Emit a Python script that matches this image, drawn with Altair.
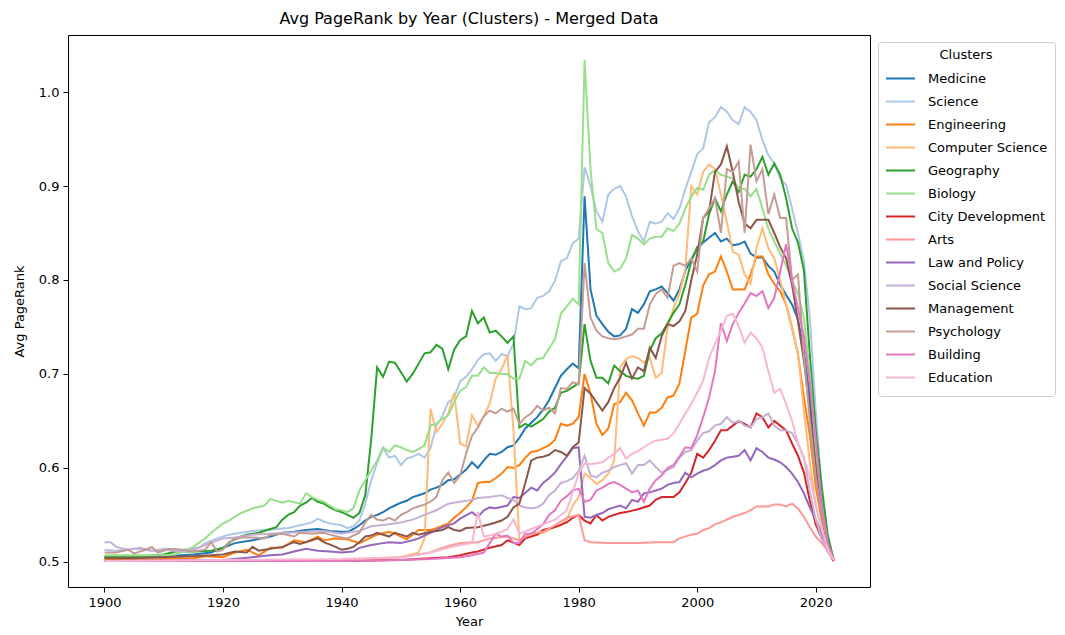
import altair as alt
import pandas as pd

CLUSTERS = ["Medicine", "Science", "Engineering", "Computer Science", "Geography",
            "Biology", "City Development", "Arts", "Law and Policy", "Social Science",
            "Management", "Psychology", "Building", "Education"]
COLORS = ["#1f77b4", "#aec7e8", "#ff7f0e", "#ffbb78", "#2ca02c", "#98df8a", "#d62728",
          "#ff9896", "#9467bd", "#c5b0d5", "#8c564b", "#c49c94", "#e377c2", "#f7b6d2"]

MEDICINE = [(1900,.505),(1905,.505),(1910,.506),(1915,.508),(1918,.510),(1920,.515),(1922,.520),(1925,.523),(1928,.527),(1930,.531),(1932,.532),(1934,.534),(1936,.535),(1938,.533),(1940,.532),(1941,.532),(1942,.535),(1943,.539),(1944,.544),(1945,.548),(1946,.550),(1947,.553),(1948,.557),(1949,.560),(1950,.563),(1951,.565),(1952,.569),(1953,.571),(1954,.573),(1955,.577),(1956,.579),(1957,.582),(1958,.587),(1959,.588),(1960,.593),(1961,.598),(1962,.606),(1963,.600),(1964,.608),(1965,.615),(1966,.614),(1967,.617),(1968,.622),(1969,.624),(1970,.632),(1971,.642),(1972,.648),(1973,.654),(1974,.662),(1975,.672),(1976,.685),(1977,.698),(1978,.705),(1979,.711),(1980,.706),(1981,.889),(1982,.790),(1983,.762),(1984,.753),(1985,.745),(1986,.740),(1987,.741),(1988,.748),(1989,.769),(1990,.765),(1991,.774),(1992,.788),(1993,.790),(1994,.793),(1995,.786),(1996,.778),(1997,.790),(1998,.810),(1999,.822),(2000,.833),(2001,.840),(2002,.845),(2003,.850),(2004,.841),(2005,.844),(2006,.837),(2007,.838),(2008,.841),(2009,.828),(2010,.824),(2011,.824),(2012,.815),(2013,.809),(2014,.795),(2015,.784),(2016,.774),(2017,.758),(2018,.725),(2019,.675),(2020,.615),(2021,.565),(2022,.525),(2023,.502)]

SCIENCE = [(1900,.513),(1902,.512),(1905,.514),(1908,.512),(1910,.514),(1913,.513),(1916,.515),(1917,.520),(1919,.525),(1921,.529),(1923,.531),(1925,.533),(1927,.534),(1929,.535),(1931,.536),(1933,.539),(1935,.542),(1936,.546),(1937,.543),(1938,.541),(1940,.539),(1941,.536),(1942,.538),(1943,.544),(1944,.562),(1945,.587),(1946,.605),(1947,.621),(1948,.611),(1949,.613),(1950,.603),(1951,.610),(1952,.612),(1953,.615),(1954,.611),(1955,.621),(1956,.645),(1957,.655),(1958,.670),(1959,.675),(1960,.692),(1961,.697),(1962,.705),(1963,.715),(1964,.721),(1965,.722),(1966,.714),(1967,.721),(1968,.719),(1969,.732),(1970,.772),(1971,.769),(1972,.770),(1973,.781),(1974,.783),(1975,.788),(1976,.799),(1977,.820),(1978,.823),(1979,.839),(1980,.844),(1981,.920),(1982,.900),(1983,.873),(1984,.862),(1985,.891),(1986,.897),(1987,.900),(1988,.889),(1989,.868),(1990,.852),(1991,.841),(1992,.862),(1993,.860),(1994,.862),(1995,.871),(1996,.865),(1997,.876),(1998,.897),(1999,.915),(2000,.934),(2001,.940),(2002,.968),(2003,.973),(2004,.984),(2005,.979),(2006,.970),(2007,.966),(2008,.984),(2009,.979),(2010,.970),(2011,.949),(2012,.933),(2013,.924),(2014,.908),(2015,.901),(2016,.876),(2017,.850),(2018,.820),(2019,.760),(2020,.660),(2021,.580),(2022,.530),(2023,.502)]

ENGINEERING = [(1900,.502),(1905,.502),(1910,.503),(1915,.504),(1917,.506),(1920,.505),(1922,.510),(1924,.513),(1926,.507),(1928,.515),(1930,.515),(1932,.523),(1934,.521),(1936,.527),(1937,.523),(1939,.525),(1941,.524),(1943,.520),(1944,.523),(1946,.529),(1948,.532),(1949,.530),(1950,.527),(1951,.524),(1953,.534),(1955,.534),(1956,.536),(1958,.541),(1959,.547),(1960,.552),(1961,.558),(1962,.565),(1963,.584),(1964,.585),(1965,.585),(1966,.589),(1967,.594),(1968,.601),(1969,.600),(1970,.603),(1971,.611),(1972,.617),(1973,.618),(1974,.621),(1975,.624),(1976,.630),(1977,.647),(1978,.645),(1979,.647),(1980,.654),(1981,.700),(1982,.679),(1983,.647),(1984,.635),(1985,.642),(1986,.668),(1987,.670),(1988,.680),(1989,.672),(1990,.658),(1991,.645),(1992,.659),(1993,.659),(1994,.664),(1995,.675),(1996,.677),(1997,.690),(1998,.725),(1999,.760),(2000,.764),(2001,.794),(2002,.806),(2003,.809),(2004,.825),(2005,.809),(2006,.790),(2007,.790),(2008,.790),(2009,.806),(2010,.825),(2011,.825),(2012,.806),(2013,.796),(2014,.788),(2015,.774),(2016,.749),(2017,.721),(2018,.675),(2019,.635),(2020,.580),(2021,.545),(2022,.520),(2023,.501)]

COMPUTER_SCIENCE = [(1900,.501),(1920,.501),(1940,.501),(1945,.502),(1950,.505),(1953,.510),(1954,.525),(1955,.663),(1956,.638),(1957,.647),(1958,.658),(1959,.680),(1960,.626),(1961,.623),(1962,.656),(1963,.645),(1964,.655),(1965,.669),(1966,.695),(1967,.705),(1968,.720),(1969,.640),(1970,.523),(1971,.525),(1972,.527),(1973,.529),(1974,.531),(1975,.534),(1976,.537),(1977,.539),(1978,.545),(1979,.560),(1980,.569),(1981,.594),(1982,.589),(1983,.583),(1984,.587),(1985,.594),(1986,.608),(1987,.707),(1988,.716),(1989,.719),(1990,.717),(1991,.712),(1992,.717),(1993,.696),(1994,.701),(1995,.749),(1996,.770),(1997,.785),(1998,.812),(1999,.900),(2000,.891),(2001,.915),(2002,.923),(2003,.918),(2004,.891),(2005,.862),(2006,.830),(2007,.827),(2008,.806),(2009,.796),(2010,.834),(2011,.855),(2012,.834),(2013,.823),(2014,.800),(2015,.774),(2016,.750),(2017,.721),(2018,.661),(2019,.606),(2020,.560),(2021,.535),(2022,.515),(2023,.501)]

GEOGRAPHY = [(1900,.505),(1905,.505),(1910,.508),(1912,.511),(1915,.511),(1918,.512),(1920,.515),(1922,.525),(1924,.529),(1926,.531),(1928,.535),(1929,.537),(1930,.545),(1931,.550),(1932,.553),(1933,.560),(1934,.563),(1935,.568),(1936,.564),(1937,.562),(1938,.558),(1939,.555),(1940,.553),(1941,.550),(1942,.547),(1943,.552),(1944,.571),(1945,.630),(1946,.707),(1947,.697),(1948,.713),(1949,.712),(1950,.702),(1951,.692),(1952,.700),(1953,.711),(1954,.722),(1955,.723),(1956,.731),(1957,.727),(1958,.705),(1959,.726),(1960,.736),(1961,.740),(1962,.767),(1963,.754),(1964,.760),(1965,.744),(1966,.746),(1967,.740),(1968,.733),(1969,.740),(1970,.643),(1971,.647),(1972,.644),(1973,.648),(1974,.652),(1975,.660),(1976,.664),(1977,.680),(1978,.682),(1979,.686),(1980,.690),(1981,.753),(1982,.714),(1983,.696),(1984,.696),(1985,.690),(1986,.709),(1987,.703),(1988,.698),(1989,.696),(1990,.695),(1991,.698),(1992,.725),(1993,.738),(1994,.743),(1995,.754),(1996,.765),(1997,.774),(1998,.795),(1999,.820),(2000,.835),(2001,.841),(2002,.870),(2003,.887),(2004,.873),(2005,.891),(2006,.905),(2007,.894),(2008,.912),(2009,.910),(2010,.918),(2011,.931),(2012,.912),(2013,.924),(2014,.912),(2015,.887),(2016,.855),(2017,.840),(2018,.810),(2019,.720),(2020,.640),(2021,.580),(2022,.528),(2023,.503)]

BIOLOGY = [(1900,.507),(1905,.507),(1910,.507),(1912,.508),(1914,.513),(1915,.516),(1917,.525),(1918,.531),(1920,.541),(1921,.544),(1923,.552),(1925,.557),(1927,.560),(1928,.567),(1930,.563),(1931,.565),(1933,.562),(1934,.573),(1935,.569),(1936,.566),(1937,.564),(1938,.560),(1939,.556),(1940,.555),(1941,.553),(1942,.557),(1943,.576),(1944,.587),(1945,.597),(1946,.608),(1947,.622),(1948,.617),(1949,.624),(1950,.622),(1951,.619),(1952,.617),(1953,.620),(1954,.624),(1955,.645),(1956,.647),(1957,.652),(1958,.656),(1959,.670),(1960,.682),(1961,.686),(1962,.698),(1963,.698),(1964,.707),(1965,.701),(1966,.701),(1967,.700),(1968,.700),(1969,.695),(1970,.695),(1971,.714),(1972,.709),(1973,.716),(1974,.717),(1975,.727),(1976,.737),(1977,.764),(1978,.772),(1979,.780),(1980,.774),(1981,1.034),(1982,.918),(1983,.854),(1984,.850),(1985,.818),(1986,.809),(1987,.812),(1988,.823),(1989,.848),(1990,.844),(1991,.838),(1992,.844),(1993,.846),(1994,.846),(1995,.855),(1996,.852),(1997,.860),(1998,.876),(1999,.889),(2000,.898),(2001,.896),(2002,.912),(2003,.917),(2004,.912),(2005,.910),(2006,.908),(2007,.897),(2008,.897),(2009,.889),(2010,.897),(2011,.876),(2012,.855),(2013,.841),(2014,.828),(2015,.815),(2016,.800),(2017,.785),(2018,.760),(2019,.700),(2020,.620),(2021,.560),(2022,.520),(2023,.502)]

CITY_DEVELOPMENT = [(1900,.501),(1920,.501),(1940,.501),(1950,.502),(1955,.504),(1958,.505),(1960,.507),(1962,.510),(1963,.511),(1965,.515),(1967,.518),(1968,.523),(1970,.518),(1971,.525),(1973,.529),(1974,.534),(1976,.537),(1978,.542),(1979,.547),(1980,.550),(1981,.544),(1982,.541),(1983,.550),(1984,.544),(1985,.548),(1987,.552),(1988,.553),(1990,.556),(1992,.560),(1993,.566),(1994,.569),(1996,.569),(1997,.574),(1998,.584),(1999,.595),(2000,.615),(2001,.611),(2002,.619),(2003,.629),(2004,.640),(2005,.640),(2006,.645),(2007,.650),(2008,.647),(2009,.643),(2010,.658),(2011,.654),(2012,.643),(2013,.650),(2014,.645),(2015,.640),(2016,.626),(2017,.613),(2018,.595),(2019,.565),(2020,.540),(2021,.525),(2022,.512),(2023,.501)]

ARTS = [(1900,.501),(1920,.501),(1940,.502),(1950,.505),(1955,.510),(1957,.515),(1960,.520),(1963,.521),(1965,.525),(1968,.527),(1970,.523),(1972,.530),(1974,.532),(1976,.539),(1978,.547),(1980,.550),(1981,.523),(1982,.521),(1985,.520),(1990,.520),(1993,.521),(1996,.521),(1997,.525),(1999,.529),(2000,.530),(2001,.534),(2002,.536),(2003,.540),(2004,.542),(2005,.545),(2006,.548),(2007,.550),(2008,.552),(2009,.555),(2010,.559),(2011,.559),(2012,.559),(2013,.561),(2014,.561),(2015,.559),(2016,.562),(2017,.557),(2018,.548),(2019,.537),(2020,.527),(2021,.520),(2022,.512),(2023,.503)]

LAW_AND_POLICY = [(1900,.501),(1920,.502),(1925,.505),(1928,.507),(1930,.508),(1932,.511),(1934,.514),(1936,.512),(1938,.511),(1940,.510),(1942,.511),(1943,.515),(1945,.518),(1947,.520),(1948,.521),(1950,.520),(1952,.523),(1953,.525),(1955,.531),(1957,.537),(1959,.541),(1960,.546),(1962,.553),(1963,.548),(1964,.555),(1965,.558),(1966,.557),(1968,.560),(1969,.569),(1970,.568),(1972,.579),(1973,.576),(1974,.584),(1975,.589),(1976,.595),(1977,.604),(1978,.612),(1979,.621),(1980,.622),(1981,.548),(1982,.547),(1983,.550),(1984,.552),(1985,.556),(1986,.558),(1987,.560),(1988,.557),(1989,.566),(1990,.564),(1991,.573),(1992,.574),(1993,.576),(1994,.578),(1995,.582),(1996,.584),(1997,.585),(1998,.595),(1999,.590),(2000,.594),(2001,.597),(2002,.599),(2003,.603),(2004,.608),(2005,.611),(2006,.612),(2007,.613),(2008,.619),(2009,.608),(2010,.621),(2011,.617),(2012,.611),(2013,.609),(2014,.606),(2015,.601),(2016,.594),(2017,.585),(2018,.573),(2019,.558),(2020,.545),(2021,.530),(2022,.515),(2023,.502)]

SOCIAL_SCIENCE = [(1900,.521),(1901,.521),(1902,.516),(1904,.513),(1906,.515),(1908,.512),(1910,.513),(1913,.511),(1915,.513),(1917,.518),(1920,.525),(1922,.526),(1925,.529),(1928,.530),(1931,.531),(1934,.532),(1937,.533),(1940,.530),(1943,.533),(1945,.538),(1948,.540),(1950,.542),(1952,.545),(1954,.550),(1956,.555),(1958,.562),(1960,.564),(1962,.566),(1963,.568),(1965,.569),(1966,.570),(1967,.571),(1968,.568),(1969,.566),(1970,.560),(1971,.558),(1972,.557),(1973,.558),(1974,.562),(1975,.571),(1976,.576),(1977,.584),(1978,.586),(1979,.589),(1980,.597),(1981,.613),(1982,.592),(1983,.590),(1984,.595),(1985,.597),(1986,.601),(1987,.603),(1988,.605),(1989,.594),(1990,.603),(1991,.603),(1992,.608),(1993,.601),(1994,.595),(1995,.598),(1996,.601),(1997,.611),(1998,.617),(1999,.619),(2000,.629),(2001,.637),(2002,.639),(2003,.645),(2004,.647),(2005,.654),(2006,.648),(2007,.650),(2008,.645),(2009,.643),(2010,.652),(2011,.654),(2012,.658),(2013,.645),(2014,.640),(2015,.640),(2016,.637),(2017,.626),(2018,.611),(2019,.575),(2020,.545),(2021,.525),(2022,.512),(2023,.502)]

MANAGEMENT = [(1900,.504),(1905,.504),(1910,.505),(1915,.506),(1918,.507),(1920,.508),(1922,.511),(1924,.510),(1925,.516),(1926,.512),(1928,.514),(1930,.516),(1932,.521),(1933,.519),(1935,.523),(1936,.525),(1937,.521),(1939,.516),(1940,.513),(1941,.514),(1942,.516),(1943,.521),(1944,.527),(1945,.528),(1946,.531),(1948,.527),(1949,.531),(1950,.529),(1951,.527),(1952,.531),(1953,.529),(1955,.532),(1956,.533),(1957,.534),(1958,.537),(1959,.534),(1960,.533),(1961,.536),(1963,.537),(1965,.540),(1966,.542),(1967,.544),(1968,.548),(1969,.558),(1970,.562),(1971,.584),(1972,.608),(1973,.611),(1974,.612),(1975,.614),(1976,.619),(1977,.617),(1978,.613),(1979,.622),(1980,.627),(1981,.685),(1982,.679),(1983,.670),(1984,.661),(1985,.670),(1986,.685),(1987,.696),(1988,.712),(1989,.695),(1990,.707),(1991,.703),(1992,.728),(1993,.717),(1994,.740),(1995,.753),(1996,.751),(1997,.756),(1998,.767),(1999,.800),(2000,.827),(2001,.866),(2002,.873),(2003,.915),(2004,.923),(2005,.942),(2006,.915),(2007,.883),(2008,.860),(2009,.855),(2010,.864),(2011,.864),(2012,.864),(2013,.850),(2014,.835),(2015,.823),(2016,.795),(2017,.756),(2018,.714),(2019,.661),(2020,.600),(2021,.550),(2022,.520),(2023,.502)]

PSYCHOLOGY = [(1900,.510),(1902,.510),(1904,.513),(1905,.509),(1907,.513),(1908,.516),(1909,.510),(1911,.514),(1913,.513),(1915,.511),(1917,.513),(1918,.521),(1919,.511),(1920,.513),(1921,.521),(1923,.526),(1925,.526),(1927,.525),(1928,.529),(1930,.530),(1932,.527),(1933,.531),(1935,.530),(1937,.531),(1938,.529),(1940,.526),(1941,.525),(1943,.531),(1944,.542),(1945,.550),(1946,.545),(1947,.544),(1948,.547),(1949,.544),(1950,.550),(1951,.553),(1952,.557),(1953,.559),(1954,.561),(1955,.564),(1956,.569),(1957,.587),(1958,.595),(1959,.584),(1960,.592),(1961,.615),(1962,.634),(1963,.643),(1964,.655),(1965,.661),(1966,.658),(1967,.663),(1968,.660),(1969,.663),(1970,.647),(1971,.654),(1972,.658),(1973,.666),(1974,.661),(1975,.664),(1976,.658),(1977,.685),(1978,.684),(1979,.691),(1980,.689),(1981,.818),(1982,.760),(1983,.746),(1984,.740),(1985,.738),(1986,.737),(1987,.738),(1988,.740),(1989,.742),(1990,.748),(1991,.748),(1992,.774),(1993,.785),(1994,.790),(1995,.781),(1996,.815),(1997,.818),(1998,.815),(1999,.823),(2000,.809),(2001,.866),(2002,.876),(2003,.887),(2004,.850),(2005,.918),(2006,.915),(2007,.926),(2008,.850),(2009,.944),(2010,.905),(2011,.918),(2012,.870),(2013,.891),(2014,.866),(2015,.866),(2016,.800),(2017,.806),(2018,.720),(2019,.650),(2020,.590),(2021,.550),(2022,.520),(2023,.502)]

BUILDING = [(1900,.501),(1920,.501),(1940,.501),(1950,.502),(1955,.503),(1960,.505),(1962,.507),(1964,.510),(1965,.520),(1966,.530),(1967,.527),(1968,.528),(1969,.520),(1970,.520),(1971,.530),(1972,.530),(1973,.535),(1974,.540),(1975,.550),(1976,.555),(1977,.565),(1978,.570),(1979,.576),(1980,.578),(1981,.564),(1982,.566),(1983,.576),(1984,.579),(1985,.583),(1986,.585),(1987,.582),(1988,.578),(1989,.574),(1990,.576),(1991,.564),(1992,.578),(1993,.587),(1994,.592),(1995,.600),(1996,.603),(1997,.612),(1998,.622),(1999,.621),(2000,.635),(2001,.654),(2002,.675),(2003,.703),(2004,.754),(2005,.735),(2006,.753),(2007,.765),(2008,.775),(2009,.786),(2010,.783),(2011,.788),(2012,.770),(2013,.781),(2014,.809),(2015,.838),(2016,.800),(2017,.770),(2018,.740),(2019,.690),(2020,.630),(2021,.560),(2022,.520),(2023,.502)]

EDUCATION = [(1900,.501),(1920,.502),(1940,.503),(1950,.505),(1955,.510),(1958,.515),(1960,.518),(1962,.520),(1963,.553),(1964,.527),(1965,.528),(1966,.530),(1967,.532),(1968,.535),(1969,.545),(1970,.530),(1972,.535),(1974,.540),(1976,.545),(1978,.555),(1979,.574),(1980,.594),(1981,.605),(1982,.604),(1983,.605),(1984,.606),(1985,.611),(1986,.615),(1987,.621),(1988,.610),(1989,.615),(1990,.618),(1991,.622),(1992,.626),(1993,.629),(1994,.630),(1995,.631),(1996,.637),(1997,.647),(1998,.658),(1999,.668),(2000,.680),(2001,.693),(2002,.717),(2003,.732),(2004,.746),(2005,.762),(2006,.764),(2007,.751),(2008,.733),(2009,.744),(2010,.738),(2011,.728),(2012,.703),(2013,.680),(2014,.684),(2015,.668),(2016,.650),(2017,.626),(2018,.610),(2019,.590),(2020,.560),(2021,.535),(2022,.514),(2023,.502)]

SERIES = [MEDICINE, SCIENCE, ENGINEERING, COMPUTER_SCIENCE, GEOGRAPHY, BIOLOGY,
          CITY_DEVELOPMENT, ARTS, LAW_AND_POLICY, SOCIAL_SCIENCE, MANAGEMENT,
          PSYCHOLOGY, BUILDING, EDUCATION]

X_TICKS = [1900, 1920, 1940, 1960, 1980, 2000, 2020]
Y_TICKS = [0.5, 0.6, 0.7, 0.8, 0.9, 1.0]

rows = []
for name, pts in zip(CLUSTERS, SERIES):
    for yr, v in pts:
        rows.append({"Year": yr, "Avg PageRank": v, "Cluster": name})
df = pd.DataFrame(rows)

FONT = "DejaVu Sans"

chart = alt.Chart(df).mark_line(strokeWidth=2, clip=True).encode(
    x=alt.X("Year:Q",
            scale=alt.Scale(domain=[1893.85, 2029.15], nice=False, zero=False),
            axis=alt.Axis(values=X_TICKS, format="d", title="Year", grid=False,
                          tickSize=5, tickColor="black", domain=False,
                          labelFontSize=13, titleFontSize=13, labelColor="black",
                          titleColor="black", titleFontWeight="normal",
                          labelPadding=4, titlePadding=6, labelFont=FONT, titleFont=FONT)),
    y=alt.Y("Avg PageRank:Q",
            scale=alt.Scale(domain=[0.4733, 1.0607], nice=False, zero=False),
            axis=alt.Axis(values=Y_TICKS, format=".1f", title="Avg PageRank", grid=False,
                          tickSize=5, tickColor="black", domain=False,
                          labelFontSize=13, titleFontSize=13, labelColor="black",
                          titleColor="black", titleFontWeight="normal",
                          labelPadding=4, titlePadding=12, labelFont=FONT, titleFont=FONT)),
    color=alt.Color("Cluster:N",
                    scale=alt.Scale(domain=CLUSTERS, range=COLORS),
                    sort=CLUSTERS,
                    legend=alt.Legend(title="Clusters", orient="none", legendX=810, legendY=7,
                                      symbolType="stroke", symbolStrokeWidth=2, symbolSize=841,
                                      labelFontSize=13, titleFontSize=13, titleFontWeight="normal",
                                      titleAnchor="middle", titleColor="black", labelColor="black",
                                      labelFont=FONT, titleFont=FONT,
                                      strokeColor="#cccccc", fillColor="white", cornerRadius=3,
                                      padding=7, rowPadding=0, clipHeight=23, labelOffset=12,
                                      titlePadding=5, labelLimit=300)),
).properties(
    width=802, height=552,
    autosize=alt.AutoSizeParams(type="none"),
    padding={"left": 60, "top": 27, "right": 187, "bottom": 40},
    title=alt.TitleParams("Avg PageRank by Year (Clusters) - Merged Data", fontSize=16,
                          fontWeight="normal", font=FONT, color="black", anchor="middle", offset=8)
).configure(font=FONT).configure_view(stroke="black", strokeWidth=1)

chart.save("out.html", embed_options={"renderer": "svg", "actions": False})
